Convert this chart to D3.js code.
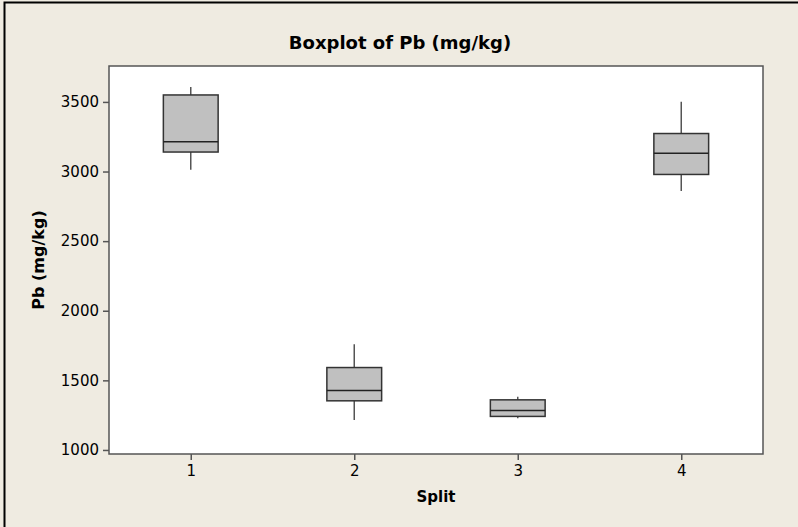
<!DOCTYPE html>
<html>
<head>
<meta charset="utf-8">
<script src="https://cdn.jsdelivr.net/npm/d3@7"></script>
<style>
  body { margin: 0; background: #efebe1; }
  svg { display: block; }
  text { font-family: "DejaVu Sans", Verdana, sans-serif; fill: #000; }
</style>
</head>
<body>
<div class="chart"></div>
<script>
// values
const categories = ["1", "2", "3", "4"]
const whiskerLow = [3013, 1215, 1227, 2860]
const q1 = [3140, 1353, 1241, 2979]
const median = [3213, 1428, 1284, 3132]
const q3 = [3550, 1592, 1360, 3273]
const whiskerHigh = [3607, 1759, 1382, 3502]
const yTicks = [1000, 1500, 2000, 2500, 3000, 3500]

const width = 798,
    height = 527,
    margin = {
        top: 66,
        right: 35,
        bottom: 73,
        left: 109
    }

const boxes = categories.map((c, i) => ({
    category: c,
    lo: whiskerLow[i],
    q1: q1[i],
    med: median[i],
    q3: q3[i],
    hi: whiskerHigh[i]
}))

const svg = d3.select(".chart").append("svg")
    .attr("width", width)
    .attr("height", height)

svg.append("rect")
    .attr("width", width).attr("height", height)
    .attr("fill", "#efebe1")

// outer frame (top + left only)
svg.append("path")
    .attr("d", `M4.5,${height} V2.5 H${width}`)
    .attr("fill", "none")
    .attr("stroke", "#000")
    .attr("stroke-width", 2)

const x = d3.scaleLinear()
    .domain([0.5, 4.5])
    .range([margin.left, width - margin.right])
const y = d3.scaleLinear()
    .domain([971, 3758])
    .range([height - margin.bottom, margin.top])

svg.append("rect")
    .attr("x", margin.left)
    .attr("y", margin.top)
    .attr("width", width - margin.left - margin.right)
    .attr("height", height - margin.top - margin.bottom)
    .attr("fill", "#fff")
    .attr("stroke", "#555")
    .attr("stroke-width", 1.5)

const yAxis = d3.axisLeft(y).tickValues(yTicks).tickFormat(d3.format("d")).tickSize(6).tickPadding(4)
svg.append("g")
    .attr("class", "y axis")
    .attr("transform", `translate(${margin.left},0)`)
    .call(yAxis)
    .call(g => g.select(".domain").remove())

const xAxis = d3.axisBottom(x).tickValues([1, 2, 3, 4]).tickFormat((d, i) => categories[i]).tickSize(6).tickPadding(5)
svg.append("g")
    .attr("class", "x axis")
    .attr("transform", `translate(0,${height - margin.bottom})`)
    .call(xAxis)
    .call(g => g.select(".domain").remove())

svg.selectAll(".axis line").attr("stroke", "#555").attr("stroke-width", 1.5)
svg.selectAll(".axis text").style("font-size", "15px").attr("fill", "#000")

const boxW = 0.335
const g = svg.selectAll(".box")
    .data(boxes)
    .enter().append("g")
    .attr("class", "box")

// whiskers
g.append("line")
    .attr("x1", (d, i) => x(i + 1)).attr("x2", (d, i) => x(i + 1))
    .attr("y1", d => y(d.hi)).attr("y2", d => y(d.q3))
    .attr("stroke", "#555").attr("stroke-width", 1.5)
g.append("line")
    .attr("x1", (d, i) => x(i + 1)).attr("x2", (d, i) => x(i + 1))
    .attr("y1", d => y(d.q1)).attr("y2", d => y(d.lo))
    .attr("stroke", "#555").attr("stroke-width", 1.5)

g.append("rect")
    .attr("x", (d, i) => x(i + 1 - boxW / 2))
    .attr("width", x(1 + boxW) - x(1))
    .attr("y", d => y(d.q3))
    .attr("height", d => y(d.q1) - y(d.q3))
    .attr("fill", "#c0c0c0")
    .attr("stroke", "#333")
    .attr("stroke-width", 1.5)

g.append("line")
    .attr("x1", (d, i) => x(i + 1 - boxW / 2))
    .attr("x2", (d, i) => x(i + 1 + boxW / 2))
    .attr("y1", d => y(d.med)).attr("y2", d => y(d.med))
    .attr("stroke", "#222").attr("stroke-width", 1.5)

svg.append("text")
    .attr("x", 400).attr("y", 49)
    .attr("text-anchor", "middle")
    .style("font-size", "18px").style("font-weight", "bold")
    .text("Boxplot of Pb (mg/kg)")

svg.append("text")
    .attr("x", (margin.left + width - margin.right) / 2).attr("y", 502)
    .attr("text-anchor", "middle")
    .style("font-size", "15px").style("font-weight", "bold")
    .text("Split")

svg.append("text")
    .attr("transform", `translate(44,${(margin.top + height - margin.bottom) / 2}) rotate(-90)`)
    .attr("text-anchor", "middle")
    .style("font-size", "16px").style("font-weight", "bold")
    .text("Pb (mg/kg)")
</script>
</body>
</html>
